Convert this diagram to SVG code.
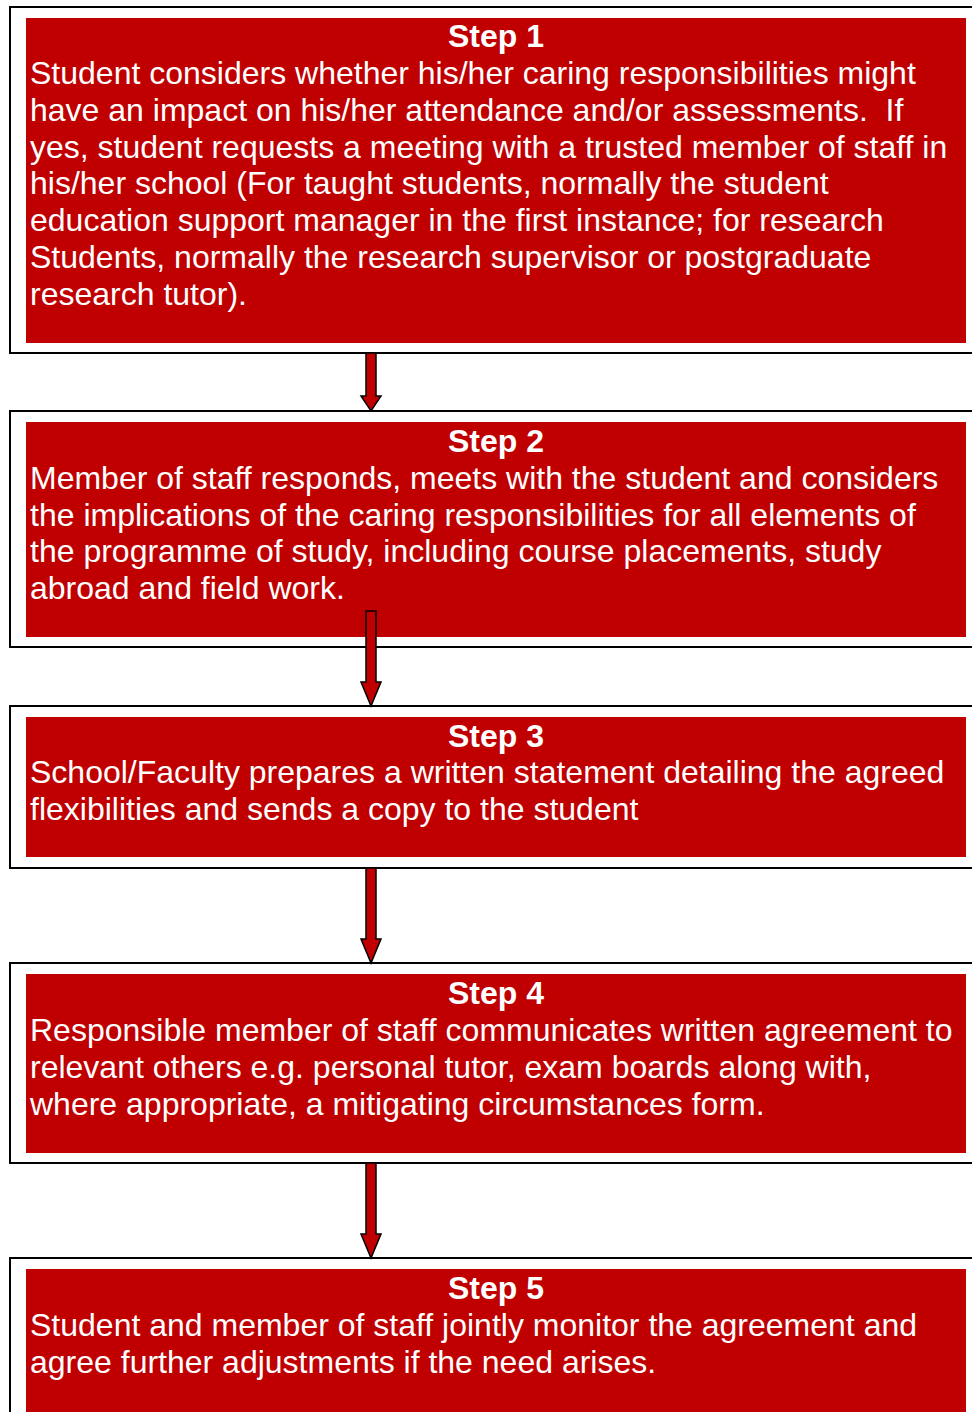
<svg xmlns="http://www.w3.org/2000/svg" width="972" height="1412" viewBox="0 0 972 1412">
<style>
.outer{fill:#fff;stroke:#000;stroke-width:2}
.red{fill:#C00000}
.t{font-family:"Liberation Sans",Arial,sans-serif;font-size:32px;fill:#fff;white-space:pre}
.h{font-weight:bold;text-anchor:middle}
.arrow{fill:#C00000;stroke:#000;stroke-width:1.5;stroke-linejoin:miter}
</style>
<rect width="972" height="1412" fill="#fff"/>
<g id="step1">
<rect class="outer" x="10" y="7" width="980" height="346"/>
<rect class="red" x="26" y="18" width="940" height="325"/>
<text class="t h" x="496" y="47">Step 1</text>
<text class="t" x="30" y="84">Student considers whether his/her caring responsibilities might</text>
<text class="t" x="30" y="121" xml:space="preserve">have an impact on his/her attendance and/or assessments.  If</text>
<text class="t" x="30" y="158">yes, student requests a meeting with a trusted member of staff in</text>
<text class="t" x="30" y="194">his/her school (For taught students, normally the student</text>
<text class="t" x="30" y="231">education support manager in the first instance; for research</text>
<text class="t" x="30" y="268">Students, normally the research supervisor or postgraduate</text>
<text class="t" x="30" y="305">research tutor).</text>
</g>
<g id="step2">
<rect class="outer" x="10" y="411" width="980" height="236"/>
<rect class="red" x="26" y="422" width="940" height="215"/>
<text class="t h" x="496" y="452">Step 2</text>
<text class="t" x="30" y="489">Member of staff responds, meets with the student and considers</text>
<text class="t" x="30" y="526">the implications of the caring responsibilities for all elements of</text>
<text class="t" x="30" y="562">the programme of study, including course placements, study</text>
<text class="t" x="30" y="599">abroad and field work.</text>
</g>
<g id="step3">
<rect class="outer" x="10" y="706" width="980" height="162"/>
<rect class="red" x="26" y="717" width="940" height="140"/>
<text class="t h" x="496" y="747">Step 3</text>
<text class="t" x="30" y="783">School/Faculty prepares a written statement detailing the agreed</text>
<text class="t" x="30" y="820">flexibilities and sends a copy to the student</text>
</g>
<g id="step4">
<rect class="outer" x="10" y="963" width="980" height="200"/>
<rect class="red" x="26" y="974" width="940" height="179"/>
<text class="t h" x="496" y="1004">Step 4</text>
<text class="t" x="30" y="1041">Responsible member of staff communicates written agreement to</text>
<text class="t" x="30" y="1078">relevant others e.g. personal tutor, exam boards along with,</text>
<text class="t" x="30" y="1115">where appropriate, a mitigating circumstances form.</text>
</g>
<g id="step5">
<rect class="outer" x="10" y="1258" width="980" height="200"/>
<rect class="red" x="26" y="1269" width="940" height="160"/>
<text class="t h" x="496" y="1299">Step 5</text>
<text class="t" x="30" y="1336">Student and member of staff jointly monitor the agreement and</text>
<text class="t" x="30" y="1373">agree further adjustments if the need arises.</text>
</g>
<g id="connectors">
<polygon class="arrow" points="366,353 376,353 376,396 381,396 371,411 361,396 366,396"/>
<polygon class="arrow" points="366,611 376,611 376,682 381,682 371,706 361,682 366,682"/>
<polygon class="arrow" points="366,868 376,868 376,939 381,939 371,963 361,939 366,939"/>
<polygon class="arrow" points="366,1163 376,1163 376,1234 381,1234 371,1258 361,1234 366,1234"/>
</g>
</svg>
